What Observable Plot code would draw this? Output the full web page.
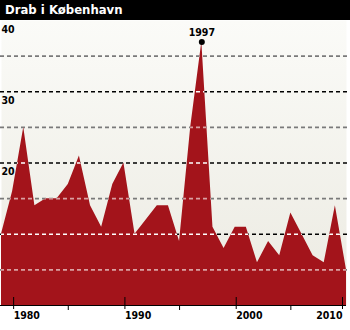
<!DOCTYPE html>
<html>
<head>
<meta charset="utf-8">
<script src="https://cdn.jsdelivr.net/npm/d3@7"></script>
<script src="https://cdn.jsdelivr.net/npm/@observablehq/plot@0.6"></script>
<style>
  body { margin: 0; background: #fff; width: 350px; height: 330px; overflow: hidden; }
  .title { background: #000; color: #fff; height: 20px; line-height: 20px; padding-left: 5px;
    font-family: "DejaVu Sans Condensed", "Liberation Sans Narrow", "DejaVu Sans", sans-serif;
    font-stretch: condensed; font-weight: bold; font-size: 13px; }
  svg { display: block; font-family: "DejaVu Sans Condensed", "Liberation Sans Narrow", "DejaVu Sans", sans-serif; font-stretch: condensed; }
</style>
</head>
<body>
<div class="title">Drab i København</div>
<div id="chart"></div>
<script>
const years = [1979,1980,1981,1982,1983,1984,1985,1986,1987,1988,1989,1990,1991,1992,1993,1994,1995,1996,1997,1998,1999,2000,2001,2002,2003,2004,2005,2006,2007,2008,2009,2010];
const murders = [10,16,25,14,15,15,17,21,14,11,17,20,10,12,14,14,9,25,37,11,8,11,11,6,9,7,13,10,7,6,14,5];
const majorGrid = [10,20,30];
const minorGrid = [5,15,25,35];
const yLabels = [10,20,30,40];
const majorYears = [1980,1990,2000];
const lastYear = [2010];
const minorYears = [1985,1995,2005];
const highlightYear = 1997;

const data = years.map((y, i) => ({year: y, value: murders[i]}));
const highlight = data.filter(d => d.year === highlightYear);
const font = {fontSize: 10.5, fontWeight: "bold"};
const dash = "4,3";
const gridW = 1.6;

const chart = Plot.plot({
  width: 350,
  height: 310,
  marginTop: 0,
  marginBottom: 25,
  marginLeft: 1,
  marginRight: 4,
  x: {domain: [1979, 2010], axis: null},
  y: {domain: [0, 40], axis: null},
  marks: [
    Plot.frame({fill: "url(#bggrad)", stroke: "none"}),
    Plot.ruleY(minorGrid, {stroke: "#7a7a7a", strokeWidth: gridW, strokeDasharray: dash, insetLeft: -1, insetRight: -4}),
    Plot.ruleY(majorGrid, {stroke: "#000", strokeWidth: gridW, strokeDasharray: dash, insetLeft: -1, insetRight: -4}),
    Plot.text(yLabels, {y: d => d, text: d => String(d), frameAnchor: "left", textAnchor: "start", dx: 0, dy: 9, fill: "#000", ...font}),
    Plot.areaY(data, {x: "year", y: "value", fill: "#a3141b", ariaDescription: "murders-area"}),
    Plot.ruleY(minorGrid, {stroke: "#fff", strokeOpacity: 0.6, strokeWidth: gridW, strokeDasharray: dash, insetLeft: -1, insetRight: -4, ariaDescription: "grid-over"}),
    Plot.ruleY(majorGrid, {stroke: "#fff", strokeWidth: gridW, strokeDasharray: dash, insetLeft: -1, insetRight: -4, ariaDescription: "grid-over"}),
    Plot.ruleY([0], {stroke: "#000", strokeWidth: 1, insetLeft: -1}),
    Plot.axisX(majorYears, {tickSize: 12, tickPadding: 2, textAnchor: "start", dx: 1, dy: -8, tickFormat: d => String(d), ...font, label: null}),
    Plot.axisX(lastYear, {tickSize: 12, tickPadding: 2, textAnchor: "end", dx: -4, dy: -8, tickFormat: d => String(d), ...font, label: null}),
    Plot.axisX(minorYears, {tickSize: 5, text: null, label: null}),
    Plot.dot(highlight, {x: "year", y: "value", r: 3, fill: "#000"}),
    Plot.text(highlight, {x: "year", y: "value", text: d => String(d.year), dy: -9, ...font, fill: "#000"})
  ]
});

// gradient background and clip for gridlines drawn over the area
const ns = "http://www.w3.org/2000/svg";
const defs = document.createElementNS(ns, "defs");
defs.innerHTML = `<linearGradient id="bggrad" x1="0" y1="0" x2="0" y2="1">
  <stop offset="0" stop-color="#fbfbf8"/><stop offset="1" stop-color="#ebeae1"/></linearGradient>
  <clipPath id="areaclip"></clipPath>`;
chart.insertBefore(defs, chart.firstChild);
const areaPath = chart.querySelector('g[aria-description="murders-area"] path');
if (areaPath) {
  const clone = areaPath.cloneNode(true);
  defs.querySelector("#areaclip").appendChild(clone);
  chart.querySelectorAll('g[aria-description="grid-over"]').forEach(g => {
    const wrap = document.createElementNS(ns, "g");
    wrap.setAttribute("clip-path", "url(#areaclip)");
    g.parentNode.insertBefore(wrap, g);
    wrap.appendChild(g);
  });
}
document.getElementById("chart").appendChild(chart);
</script>
</body>
</html>
